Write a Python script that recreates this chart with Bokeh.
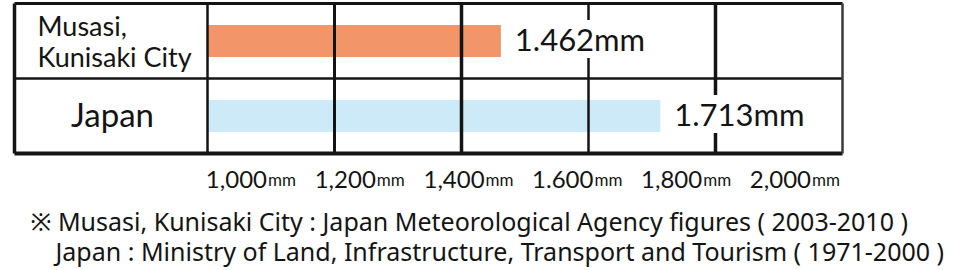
from bokeh.plotting import figure
from bokeh.models import ColumnDataSource, Range1d, LabelSet, Label
from bokeh.core.properties import value
from bokeh.embed import file_html
from bokeh.resources import INLINE

# ---- data ----
CATEGORIES = ["Musasi, Kunisaki City", "Japan"]
RAINFALL_MM = [1462, 1713]
VALUE_LABELS = ["1.462mm", "1.713mm"]
TICKS = [1000, 1200, 1400, 1600, 1800, 2000]
TICK_NUMBERS = ["1,000", "1,200", "1,400", "1.600", "1,800", "2,000"]
TICK_UNIT = "mm"
NOTE_LINE_1 = "※ Musasi, Kunisaki City : Japan Meteorological Agency figures ( 2003-2010 )"
NOTE_LINE_2 = "Japan : Ministry of Land, Infrastructure, Transport and Tourism ( 1971-2000 )"

# ---- layout ----
W, H = 967, 270
FONT = "Lato"
NOTE_FONT = "Noto Sans"
MM_PER_PX = 1000 / 635.0          # main value scale
X0 = 1000 - 207 * MM_PER_PX
LABEL_MM_PER_PX = 1000 / 544.0    # scale used for the tick captions
LX0 = 1000 - 266.5 * LABEL_MM_PER_PX
PX_PER_ROW = 75.0
TABLE_LEFT = 1000 - 193 * MM_PER_PX
ROW_Y = [1.5, 0.5]
ORANGE = "#F29568"
BLUE = "#CDEAF8"
INK = "#141414"

p = figure(width=W, height=H, output_backend="svg", toolbar_location=None,
           x_axis_location=None, y_axis_location=None,
           x_range=Range1d(X0, X0 + W * MM_PER_PX),
           y_range=Range1d(-(H - 153) / PX_PER_ROW, 153 / PX_PER_ROW),
           min_border=0, outline_line_color=None,
           background_fill_color="white", border_fill_color="white")
p.grid.grid_line_color = None
p.xgrid.visible = False
p.ygrid.visible = False
p.extra_x_ranges = {"captions": Range1d(LX0, LX0 + W * LABEL_MM_PER_PX)}

# bars
bars = ColumnDataSource(dict(y=ROW_Y, v=RAINFALL_MM, lab=VALUE_LABELS,
                             c=[ORANGE, BLUE]))
p.hbar(y="y", left=TICKS[0], right="v", height=32 / PX_PER_ROW,
       fill_color="c", line_color=None, source=bars)

# table lines: horizontal (bottom, middle, top)
p.segment(x0=[TABLE_LEFT] * 3, x1=[TICKS[-1]] * 3, y0=[0, 1, 2], y1=[0, 1, 2],
          line_color=INK, line_width=[4, 2.5, 3])
# left border
p.segment(x0=[TABLE_LEFT], x1=[TABLE_LEFT], y0=[0], y1=[2],
          line_color=INK, line_width=3.5)
# value grid lines
p.segment(x0=TICKS, x1=TICKS, y0=[0] * len(TICKS), y1=[2] * len(TICKS),
          line_color=[INK, INK, INK, INK, INK, "#3a3a3a"],
          line_width=[2.5, 3, 3.5, 2.5, 3.5, 2.5])

# value labels
p.add_layout(LabelSet(x="v", y="y", text="lab", source=bars, x_offset=14,
                      y_offset=2,
                      text_baseline="middle", text_align="left",
                      text_font=value(FONT), text_font_size="31px",
                      text_color=INK, background_fill_color="white"))

# tick captions
tick_src = ColumnDataSource(dict(x=TICKS, num=TICK_NUMBERS,
                                 unit=[TICK_UNIT] * len(TICKS),
                                 y=[-(179 - 153) / PX_PER_ROW] * len(TICKS)))
p.text(x="x", y="y", text="num", source=tick_src, x_range_name="captions",
       text_align="right", text_baseline="alphabetic",
       text_font=value(FONT), text_font_size="24px", text_color=INK)
p.text(x="x", y="y", text="unit", source=tick_src, x_range_name="captions",
       x_offset=1, text_align="left", text_baseline="alphabetic",
       text_font=value(FONT), text_font_size="17px", text_color=INK)

# row labels / notes
def screen_label(txt, x, y_from_top, size, font=FONT, align="left"):
    p.add_layout(Label(x=x, y=H - y_from_top, x_units="screen", y_units="screen",
                       text=txt, text_font=font, text_font_size=size,
                       text_color=INK, text_align=align,
                       text_baseline="alphabetic"))

first, second = CATEGORIES[0].split(" ", 1)
screen_label(first, 37, 25, "27px")
screen_label(second, 37, 56, "27px")
screen_label(CATEGORIES[1], 112, 113, "33px", align="center")

screen_label(NOTE_LINE_1, 30, 220, "25px", font=NOTE_FONT)
screen_label(NOTE_LINE_2, 55, 250, "25px", font=NOTE_FONT)

open("out.html", "w").write(file_html(p, INLINE))
